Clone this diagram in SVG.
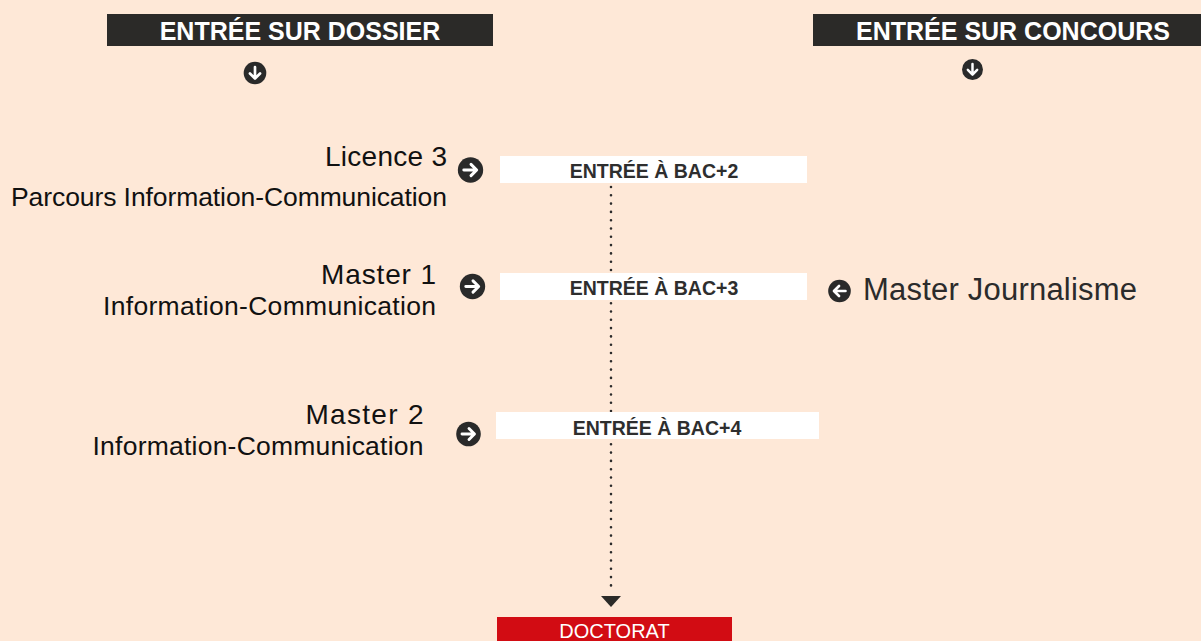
<svg xmlns="http://www.w3.org/2000/svg" xmlns:xlink="http://www.w3.org/1999/xlink" width="1201" height="641" viewBox="0 0 1201 641">
<style>
.hdr{fill:#2b2a28}
.hdrt{font-family:"Liberation Sans",Arial,sans-serif;font-weight:bold;font-size:25px;fill:#ffffff;text-anchor:middle}
.title{font-family:"Liberation Sans",Arial,sans-serif;font-size:28px;fill:#111111;text-anchor:end}
.sub{font-family:"Liberation Sans",Arial,sans-serif;font-size:26.5px;fill:#111111;text-anchor:end}
.box{fill:#ffffff}
.boxt{font-family:"Liberation Sans",Arial,sans-serif;font-weight:bold;font-size:19.5px;fill:#2e2e2e;text-anchor:middle}
.side{font-family:"Liberation Sans",Arial,sans-serif;font-size:31px;fill:#2b2b2b}
.doct{font-family:"Liberation Sans",Arial,sans-serif;font-size:20px;fill:#ffffff;text-anchor:middle}
.dots{stroke:#2b2b2b;stroke-width:2.6;stroke-linecap:round;stroke-dasharray:0 8.3;fill:none}
</style>
<defs>
<g id="arrowIcon">
<circle cx="0" cy="0" r="12.3" fill="#2a2a2a"/>
<path d="M-6.5,0 H5.5 M0.5,-5.5 L6,0 L0.5,5.5" fill="none" stroke="#ffffff" stroke-width="2.9" stroke-linecap="round" stroke-linejoin="round"/>
</g>
</defs>
<rect x="0" y="0" width="1201" height="641" fill="#fee8d7"/>

<g id="header-dossier">
<rect class="hdr" x="107" y="14" width="386" height="32"/>
<text class="hdrt" x="300" y="39.5">ENTRÉE SUR DOSSIER</text>
<use xlink:href="#arrowIcon" transform="translate(255,73) rotate(90) scale(0.92)"/>
</g>

<g id="header-concours">
<rect class="hdr" x="813" y="14" width="388" height="32"/>
<text class="hdrt" x="1013" y="39.5">ENTRÉE SUR CONCOURS</text>
<use xlink:href="#arrowIcon" transform="translate(972.5,69.5) rotate(90) scale(0.85)"/>
</g>

<g id="connectors">
<line class="dots" x1="611" y1="187" x2="611" y2="588"/>
<polygon points="601,596 621,596 611,607" fill="#2b2a28"/>
</g>

<g id="licence3">
<text class="title" x="447" y="166" textLength="122">Licence 3</text>
<text class="sub" x="447" y="206" textLength="436">Parcours Information-Communication</text>
<use xlink:href="#arrowIcon" transform="translate(470.5,170) scale(1.03)"/>
</g>

<g id="bac2">
<rect class="box" x="500" y="156" width="307" height="27"/>
<text class="boxt" x="654" y="178">ENTRÉE À BAC+2</text>
</g>

<g id="master1">
<text class="title" x="436" y="283.5" textLength="115">Master 1</text>
<text class="sub" x="436" y="315" textLength="333">Information-Communication</text>
<use xlink:href="#arrowIcon" transform="translate(472.5,286.5) scale(1.03)"/>
</g>

<g id="bac3">
<rect class="box" x="500" y="273" width="307" height="27"/>
<text class="boxt" x="654" y="295">ENTRÉE À BAC+3</text>
</g>

<g id="master-journalisme">
<use xlink:href="#arrowIcon" transform="translate(839.5,291) rotate(180) scale(0.92)"/>
<text class="side" x="863" y="299.5" textLength="274">Master Journalisme</text>
</g>

<g id="master2">
<text class="title" x="423.5" y="424" textLength="118">Master 2</text>
<text class="sub" x="423.5" y="455" textLength="331">Information-Communication</text>
<use xlink:href="#arrowIcon" transform="translate(468.5,434) scale(1)"/>
</g>

<g id="bac4">
<rect class="box" x="496" y="412" width="323" height="27"/>
<text class="boxt" x="657" y="435">ENTRÉE À BAC+4</text>
</g>

<g id="doctorat">
<rect x="497" y="617" width="235" height="24" fill="#d20c13"/>
<text class="doct" x="614.5" y="638">DOCTORAT</text>
</g>
</svg>
